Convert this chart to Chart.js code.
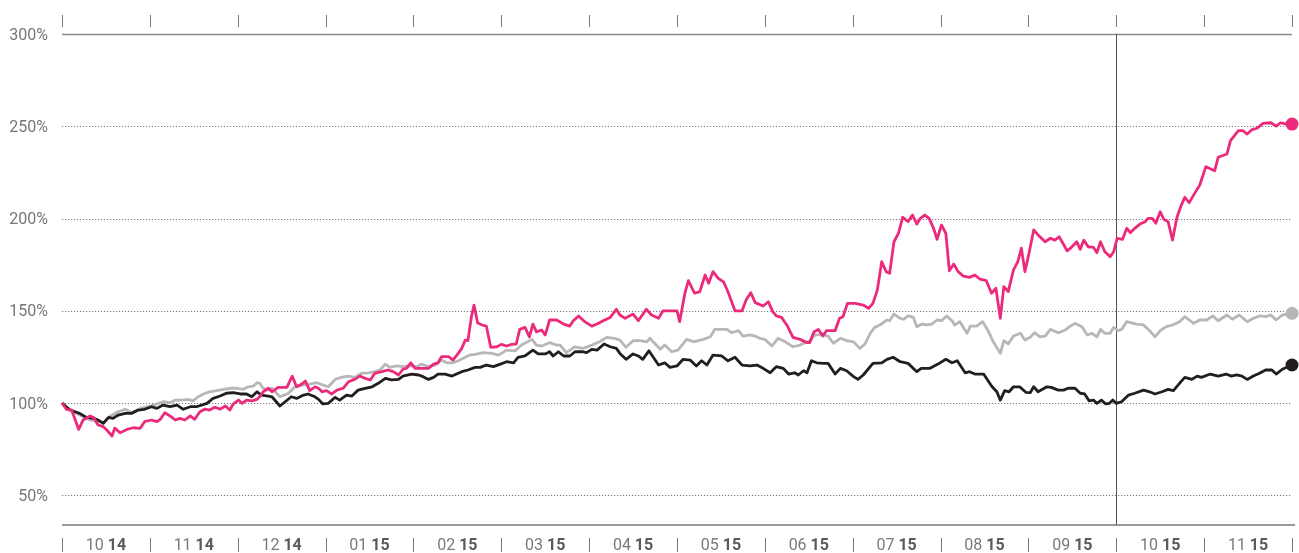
<!DOCTYPE html>
<html>
<head>
<meta charset="utf-8">
<script src="https://cdn.jsdelivr.net/npm/chart.js@4/dist/chart.umd.min.js"></script>
<style>
  html, body { margin: 0; padding: 0; background: #ffffff; }
  #wrap { position: relative; width: 1299px; height: 553px; }
</style>
</head>
<body>
<div id="wrap"><canvas id="c" width="1299" height="553"></canvas></div>
<script>
// ---- data (x = months since start of Oct 2014, y = % of start value) ----
const monthLabels = ['10','11','12','01','02','03','04','05','06','07','08','09','10','11'];
const yearLabels  = ['14','14','14','15','15','15','15','15','15','15','15','15','15','15'];
const yTicks = [50, 100, 150, 200, 250, 300];
const markerMonth = 12;

const pinkX = [0,0.05,0.11,0.19,0.24,0.32,0.36,0.41,0.47,0.51,0.57,0.60,0.66,0.74,0.81,0.89,0.94,1.02,1.08,1.12,1.17,1.23,1.29,1.34,1.40,1.46,1.51,1.57,1.63,1.68,1.74,1.80,1.86,1.91,1.95,2.01,2.05,2.10,2.16,2.22,2.25,2.29,2.35,
2.39,2.46,2.56,2.62,2.67,2.73,2.77,2.82,2.88,2.92,2.96,3.01,3.07,3.13,3.20,3.26,3.33,3.39,3.45,3.51,3.56,3.64,3.71,3.77,3.83,3.88,3.92,3.97,4.02,4.09,4.17,4.23,4.28,4.32,4.40,4.45,4.51,4.55,4.59,4.62,4.66,4.69,4.73,4.78,4.83,4.88,4.95,5.00,5.06,5.12,5.17,5.21,5.27,5.32,5.36,5.40,5.46,5.50,5.55,5.63,5.71,5.78,5.82,5.88,5.95,6.03,6.09,6.16,6.24,6.31,6.35,6.41,6.50,6.56,6.65,6.71,
6.79,6.84,7.00,7.03,7.09,7.13,7.20,7.26,7.32,7.36,7.41,7.47,7.53,7.58,7.66,7.74,7.79,7.84,7.89,7.98,8.04,8.09,8.13,8.19,8.25,8.32,8.40,8.48,8.51,8.56,8.61,8.66,8.70,8.80,8.85,8.89,8.94,9.03,
9.12,9.18,9.23,9.28,9.33,9.38,9.42,9.47,9.52,9.57,9.63,9.68,9.73,9.77,9.82,9.87,9.92,9.96,10.01,10.06,10.10,10.15,10.20,10.26,10.33,10.39,10.45,10.52,10.58,10.63,10.68,10.72,10.77,10.83,10.88,10.92,10.96,11.01,11.06,11.11,11.19,11.25,11.30,11.35,11.44,11.49,11.55,11.59,11.63,11.68,11.74,11.78,11.82,11.87,11.93,11.97,12.01,
12.07,12.12,12.16,12.21,12.27,12.33,12.36,12.41,12.45,12.50,12.54,12.59,12.64,12.69,12.74,12.78,12.83,12.88,12.95,13.02,13.12,13.16,13.26,13.30,13.34,13.39,13.44,13.49,13.54,13.60,13.67,13.76,13.82,13.87,13.93,14.00];
const pinkY = [100,96.6,96.2,85.7,90.8,93.0,92.2,88.1,87.2,85.4,82.1,86.4,83.9,85.7,86.6,86.3,89.9,90.8,89.9,91.2,94.7,93.0,90.8,91.7,90.8,93.0,91.2,95.3,96.7,96.2,97.7,96.7,98.4,96.2,99.5,101.6,99.8,101.6,101.2,102.0,103.4,106.1,108.0,
106.1,108.5,108.5,114.6,108.8,110.3,111.9,106.7,108.8,108.0,106.1,106.7,104.9,107.0,108.0,111.5,112.8,114.6,113.4,112.5,116.1,117.0,117.9,117.0,115.2,118.3,118.8,121.8,118.8,118.8,118.8,121.1,121.8,125.1,125.1,123.3,126.9,129.6,134.1,133.8,146.8,153.1,143.5,142.3,141.7,130.2,130.5,131.8,130.9,131.8,132.0,139.9,141.0,135.9,142.8,138.6,139.6,136.9,145.0,145.0,142.8,141.7,144.6,147.2,144.1,141.7,142.8,144.6,146.4,150.8,147.7,145.9,148.2,144.6,150.8,147.7,
145.9,150.0,150.0,144.1,159.5,166.3,159.5,160.4,169.4,164.9,171.2,167.6,165.7,160.3,150.0,150.0,156.2,159.8,154.4,152.6,154.9,149.5,147.2,146.4,142.3,135.6,134.5,132.7,132.7,138.6,139.9,136.3,139.2,139.2,145.9,146.8,154.0,154.0,
153.1,151.3,154.0,161.2,176.6,171.2,170.3,187.4,192.0,200.7,198.3,201.9,197.0,200.1,201.9,200.1,194.7,188.7,196.5,192.0,171.7,175.3,171.2,168.8,168.1,169.4,167.1,166.3,159.5,162.2,145.9,163.1,160.4,172.2,176.7,183.9,171.2,182.0,193.8,191.1,187.4,189.3,188.3,190.1,182.5,184.4,187.4,183.3,188.3,184.7,184.4,181.5,187.4,182.0,179.3,182.0,189.3,
188.7,194.7,192.3,194.7,197.0,198.3,200.1,200.1,197.4,203.7,199.6,198.3,188.3,200.6,207.3,211.5,208.6,212.7,218.2,228.1,225.9,233.2,235.0,242.2,244.7,247.6,247.6,245.8,248.0,248.9,251.6,251.9,250.1,251.9,251.2,251.2];

const blackX = [0,0.09,0.20,0.28,0.36,0.41,0.47,0.53,0.58,0.64,0.72,0.79,0.87,0.94,1.02,1.08,1.15,1.23,1.31,1.38,1.46,1.53,1.65,1.72,1.80,1.87,1.95,2.03,2.10,2.16,2.22,2.27,2.35,
2.39,2.48,2.54,2.61,2.67,2.75,2.80,2.88,2.92,2.97,3.03,3.11,3.16,3.24,3.30,3.37,3.45,3.53,3.60,3.68,3.75,3.83,3.88,3.98,4.06,4.11,4.17,4.23,4.28,4.36,4.44,4.49,4.55,4.62,4.70,
4.76,4.83,4.91,4.99,5.06,5.14,5.19,5.27,5.36,5.42,5.50,5.55,5.59,5.65,5.71,5.78,5.84,5.92,5.97,6.03,6.09,6.17,6.24,6.31,6.35,6.42,6.50,6.56,6.61,6.68,
6.79,6.86,6.92,7.00,7.07,7.15,7.22,7.28,7.34,7.41,7.51,7.58,7.66,7.74,7.83,7.91,7.98,8.06,8.13,8.21,8.27,8.34,8.38,8.44,8.48,8.53,8.59,8.67,8.72,8.80,8.86,8.93,9.01,
9.06,9.12,9.23,9.33,9.39,9.46,9.54,9.63,9.73,9.78,9.88,9.97,10.06,10.13,10.19,10.28,10.33,10.39,10.49,10.58,10.64,10.68,10.73,10.78,10.83,10.90,10.97,11.02,11.06,11.11,11.21,11.26,11.34,11.40,11.45,11.53,11.59,11.64,11.69,11.74,11.78,11.83,11.88,11.92,11.96,12.00,
12.06,12.14,12.21,12.31,12.38,12.44,12.52,12.59,12.65,12.72,12.78,12.86,12.92,12.97,13.07,13.16,13.25,13.31,13.37,13.43,13.49,13.56,13.63,13.70,13.77,13.82,13.89,14.00];
const blackY = [100,96.2,94.4,92.2,91.7,90.8,89.0,92.2,91.7,93.5,94.4,94.4,96.2,96.6,98.0,97.1,98.9,98.0,98.9,96.6,98.0,98.0,99.8,102.5,103.8,105.3,105.6,104.9,104.9,103.4,106.1,104.3,103.8,
103.4,98.4,100.7,103.4,102.5,104.3,104.9,103.4,102.0,99.5,99.8,103.1,101.6,104.3,103.8,107.0,108.0,108.8,110.7,113.4,112.5,112.8,114.6,115.7,115.2,114.3,112.8,113.9,115.7,115.7,114.6,115.7,117.0,117.9,119.3,
119.3,120.6,119.7,121.1,122.4,121.8,124.8,125.5,128.7,126.6,126.6,127.8,125.5,127.8,125.5,125.5,127.8,127.8,127.3,129.1,128.7,132.0,130.5,129.6,126.9,123.7,126.6,125.5,123.7,128.3,
120.6,121.8,119.3,120.1,123.7,123.3,120.1,122.9,120.6,126.0,125.5,122.9,124.8,120.6,120.1,120.6,118.8,116.4,119.7,118.8,115.7,116.4,115.2,117.5,116.4,122.9,121.8,121.5,121.5,115.7,118.8,117.5,114.3,
112.8,115.2,121.5,121.8,123.7,124.8,122.4,121.5,117.0,118.8,118.8,121.1,123.7,121.8,122.9,116.4,117.0,115.7,115.7,109.2,106.1,101.6,106.7,106.1,108.8,108.8,105.8,105.6,108.8,106.1,108.8,108.5,107.0,107.0,108.0,108.0,105.3,104.9,101.2,101.6,99.8,101.6,99.5,99.8,101.6,99.8,
100.7,104.3,105.3,107.0,106.1,104.9,106.1,107.4,106.7,110.7,113.9,112.8,114.6,113.9,115.7,114.6,115.7,114.6,115.2,114.6,112.8,114.6,116.1,117.9,117.9,115.7,118.3,120.6];

const greyX = [0,0.05,0.20,0.32,0.39,0.47,0.55,0.64,0.72,0.79,0.89,0.98,1.08,1.15,1.23,1.29,1.36,1.44,1.49,1.55,1.61,1.68,1.76,1.84,1.91,1.99,2.06,2.12,2.18,2.22,2.25,2.29,2.35,
2.39,2.48,2.58,2.65,2.75,2.82,2.90,2.97,3.03,3.11,3.18,3.26,3.33,3.41,3.49,3.56,3.62,3.68,3.73,3.81,3.88,3.96,4.04,4.09,4.17,4.25,4.32,4.38,4.45,4.51,4.59,4.64,4.70,
4.80,4.89,4.97,5.06,5.16,5.23,5.35,5.40,5.46,5.55,5.63,5.67,5.74,5.84,5.93,6.03,6.12,6.20,6.29,6.35,6.42,6.50,6.58,6.66,6.69,
6.81,6.86,6.94,7.01,7.11,7.19,7.30,7.38,7.43,7.57,7.62,7.70,7.75,7.83,7.89,7.94,8.00,8.08,8.15,8.23,8.32,8.40,8.51,8.57,8.66,8.72,8.78,8.86,8.93,9.01,
9.08,9.14,9.20,9.25,9.31,9.39,9.42,9.47,9.54,9.58,9.63,9.69,9.73,9.79,9.84,9.90,9.96,10.01,10.07,10.13,10.16,10.22,10.30,10.34,10.41,10.48,10.54,10.60,10.68,10.72,10.77,10.83,10.91,10.96,11.02,11.07,11.13,11.19,11.25,11.34,11.42,11.47,11.53,11.61,11.67,11.72,11.78,11.82,11.87,11.93,11.97,12.02,
12.06,12.12,12.17,12.23,12.31,12.38,12.44,12.50,12.57,12.64,12.72,12.78,12.83,12.88,12.95,13.03,13.10,13.16,13.26,13.32,13.40,13.49,13.56,13.63,13.70,13.76,13.82,13.89,14.00];
const greyY = [100,97.8,93.5,90.8,90.4,89.3,93.0,95.3,96.6,94.7,97.1,98.0,99.5,100.7,100.2,101.6,101.6,102.0,101.2,103.4,104.9,106.1,106.7,107.4,108.0,108.0,107.4,108.8,109.2,111.0,110.7,108.0,107.0,
108.0,103.4,105.3,108.8,109.8,110.3,111.0,109.8,108.8,112.8,113.9,114.6,113.9,116.1,116.4,117.0,117.9,121.1,119.3,120.1,119.7,120.1,119.7,121.1,119.7,120.6,123.3,121.8,121.8,122.9,124.8,126.0,126.4,
127.3,126.9,126.0,128.7,128.3,131.4,134.5,131.4,130.9,132.7,131.4,131.4,127.3,130.5,129.6,131.4,133.2,135.6,135.1,134.1,130.2,133.8,133.8,133.2,135.1,
129.1,131.4,127.8,128.7,134.5,133.2,134.5,135.9,139.9,139.9,138.1,139.2,136.3,136.9,136.3,135.1,134.5,130.9,135.1,133.2,130.5,131.4,133.8,136.9,136.9,136.3,132.4,135.1,133.8,133.2,
129.6,132.0,137.8,141.0,142.3,145.0,144.6,148.2,145.9,145.4,147.2,146.4,141.4,142.8,142.3,142.8,145.0,144.6,147.2,144.6,142.3,144.1,137.8,141.7,141.7,144.1,139.2,133.2,126.9,133.8,132.0,136.3,137.8,134.1,135.6,138.1,135.9,136.3,139.9,138.1,139.6,141.4,143.2,141.4,136.9,137.8,135.9,139.9,137.8,137.8,141.0,139.2,
139.9,144.1,143.5,142.8,142.3,139.2,135.9,139.2,141.4,142.3,144.1,146.8,145.0,143.2,145.0,145.0,147.2,144.6,147.7,145.4,147.7,144.1,145.9,147.2,146.8,147.7,145.0,147.7,148.6];

// ---- build ----
function pts(xs, ys) {
  const n = Math.min(xs.length, ys.length);
  const out = [];
  for (let i = 0; i < n; i++) out.push({ x: xs[i], y: ys[i] });
  return out;
}
function series(xs, ys, color) {
  const data = pts(xs, ys);
  const last = data.length - 1;
  return {
    data,
    borderColor: color,
    backgroundColor: color,
    borderWidth: 2.8,
    tension: 0,
    clip: false,
    pointRadius: c => c.dataIndex === last ? 6.5 : 0,
    pointHoverRadius: c => c.dataIndex === last ? 6.5 : 0,
    pointBorderWidth: 0,
    borderJoinStyle: 'round'
  };
}

const FONT = 'Roboto, "DejaVu Sans", sans-serif';

const decor = {
  id: 'decor',
  beforeDatasetsDraw(chart) {
    const { ctx, chartArea: a, scales: { x, y } } = chart;
    ctx.save();
    // horizontal grid lines
    yTicks.forEach(v => {
      const py = Math.round(y.getPixelForValue(v)) + 0.5;
      ctx.beginPath();
      if (v === 300) {
        ctx.setLineDash([]);
        ctx.strokeStyle = '#8a8a8a';
        ctx.lineWidth = 1.5;
      } else {
        ctx.setLineDash([1.2, 1.8]);
        ctx.strokeStyle = '#7a7a7a';
        ctx.lineWidth = 1;
      }
      ctx.moveTo(a.left, py);
      ctx.lineTo(a.right, py);
      ctx.stroke();
    });
    ctx.setLineDash([]);
    // bottom axis line
    ctx.strokeStyle = '#9a9a9a';
    ctx.lineWidth = 2;
    ctx.beginPath();
    ctx.moveTo(a.left, a.bottom);
    ctx.lineTo(a.right + 3, a.bottom);
    ctx.stroke();
    // month boundary ticks (top and bottom)
    ctx.strokeStyle = '#7a7a7a';
    ctx.lineWidth = 1;
    for (let m = 0; m <= monthLabels.length; m++) {
      const px = Math.round(x.getPixelForValue(m)) + 0.5;
      ctx.beginPath();
      ctx.moveTo(px, 15); ctx.lineTo(px, 27);
      ctx.moveTo(px, 538); ctx.lineTo(px, 552);
      ctx.stroke();
    }
    // marker vertical line
    const vx = Math.round(x.getPixelForValue(markerMonth)) + 0.5;
    ctx.strokeStyle = '#555555';
    ctx.lineWidth = 1;
    ctx.beginPath();
    ctx.moveTo(vx, a.top);
    ctx.lineTo(vx, a.bottom);
    ctx.stroke();
    // month labels
    ctx.textBaseline = 'middle';
    ctx.textAlign = 'left';
    for (let m = 0; m < monthLabels.length; m++) {
      const cx = (x.getPixelForValue(m) + x.getPixelForValue(m + 1)) / 2;
      ctx.font = '400 16px ' + FONT;
      const t1 = monthLabels[m] + ' ';
      const w1 = ctx.measureText(t1).width;
      ctx.font = '700 16px ' + FONT;
      const w2 = ctx.measureText(yearLabels[m]).width;
      const sx = cx - (w1 + w2) / 2;
      ctx.font = '400 16px ' + FONT;
      ctx.fillStyle = '#7a7a7a';
      ctx.fillText(t1, sx, 546);
      ctx.font = '700 16px ' + FONT;
      ctx.fillStyle = '#5a5a5a';
      ctx.fillText(yearLabels[m], sx + w1, 546);
    }
    ctx.restore();
  }
};

new Chart(document.getElementById('c'), {
  type: 'line',
  data: {
    datasets: [
      series(pinkX, pinkY, '#ec2a7b'),
      series(blackX, blackY, '#221e1f'),
      series(greyX, greyY, '#b7b7b9')
    ]
  },
  options: {
    responsive: false,
    animation: false,
    events: [],
    layout: { padding: { top: 34, right: 7, bottom: 28, left: 0 } },
    plugins: { legend: { display: false }, tooltip: { enabled: false } },
    scales: {
      x: { type: 'linear', min: 0, max: 14, display: false },
      y: {
        type: 'linear',
        min: 33.9,
        max: 300,
        afterBuildTicks: s => { s.ticks = yTicks.map(v => ({ value: v })); },
        afterFit: s => { s.width = 62; },
        grid: { display: false, drawTicks: false },
        border: { display: false },
        ticks: {
          padding: 14,
          labelOffset: 1.5,
          color: '#777777',
          font: { family: FONT, size: 16, weight: '400' },
          callback: v => v + '%'
        }
      }
    }
  },
  plugins: [decor]
});
</script>
</body>
</html>
